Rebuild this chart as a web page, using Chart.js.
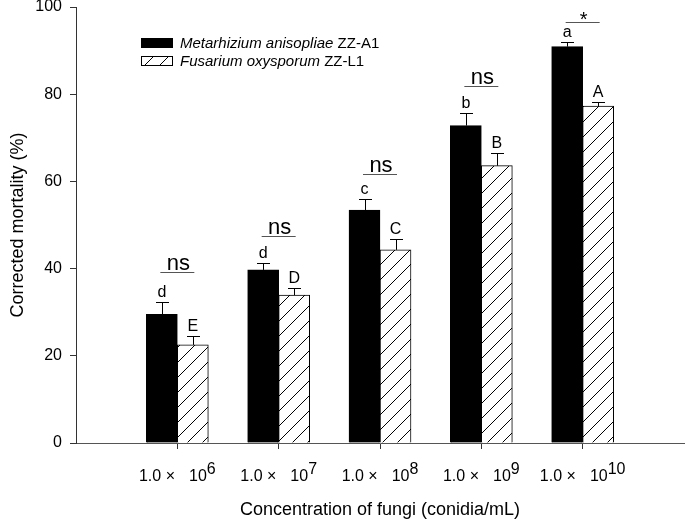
<!DOCTYPE html>
<html>
<head>
<meta charset="utf-8">
<script src="https://cdn.jsdelivr.net/npm/chart.js@4.4.0/dist/chart.umd.min.js"></script>
<style>
    html, body { margin: 0; padding: 0; background: #fff; }
    #wrap { width: 685px; height: 523px; position: relative; }
</style>
</head>
<body>
<div id="wrap"><canvas id="mortalityChart"></canvas></div>
<script>
// concentrations (position of each group on the x axis) and their labels
const concentrations = [1, 2, 3, 4, 5];
const tickLabels = ['1.0 × 10^6', '1.0 × 10^7', '1.0 × 10^8', '1.0 × 10^9', '1.0 × 10^10'];
const yTicks = [0, 20, 40, 60, 80, 100];

// series
const speciesNames = ['Metarhizium anisopliae', 'Fusarium oxysporum'];
const strainNames = ['ZZ-A1', 'ZZ-L1'];
const metarhiziumMeans = [29.5, 39.7, 53.4, 72.8, 90.9];
const metarhiziumErrors = [2.9, 1.5, 2.6, 3.0, 1.0];
const fusariumMeans = [22.5, 33.9, 44.3, 63.6, 77.3];
const fusariumErrors = [2.0, 1.6, 2.4, 2.9, 1.0];

// significance letters and pairwise comparison
const metarhiziumLetters = ['d', 'd', 'c', 'b', 'a'];
const fusariumLetters = ['E', 'D', 'C', 'B', 'A'];
const pairLabels = ['ns', 'ns', 'ns', 'ns', '*'];
const pairLevels = [39.3, 47.5, 61.7, 81.9, 96.6];

const FONT = '"Liberation Sans", Arial, Helvetica, sans-serif';
Chart.defaults.font.family = FONT;
Chart.defaults.color = '#000';

// motif hachuré pour la 2e série
function makeHatch(ctx) {
    const s = 15;
    const c = document.createElement('canvas');
    c.width = s; c.height = s;
    const g = c.getContext('2d');
    g.fillStyle = '#fff';
    g.fillRect(0, 0, s, s);
    g.strokeStyle = '#000';
    g.lineWidth = 1;
    g.beginPath();
    g.moveTo(0, s); g.lineTo(s, 0);
    g.moveTo(-2, 2); g.lineTo(2, -2);
    g.moveTo(s - 2, s + 2); g.lineTo(s + 2, s - 2);
    g.stroke();
    return ctx.createPattern(c, 'repeat');
}

const canvas = document.getElementById('mortalityChart');
const ctx = canvas.getContext('2d');
const hatch = makeHatch(ctx);

// error bars, letters, ns lines
const annotations = {
    id: 'annotations',
    afterDatasetsDraw(chart) {
        const c = chart.ctx;
        const y = chart.scales.y;
        const x = chart.scales.x;
        const sets = [
            { meta: chart.getDatasetMeta(0), means: metarhiziumMeans, errs: metarhiziumErrors, letters: metarhiziumLetters },
            { meta: chart.getDatasetMeta(1), means: fusariumMeans, errs: fusariumErrors, letters: fusariumLetters }
        ];
        c.save();
        c.strokeStyle = '#000';
        c.lineWidth = 1;
        c.fillStyle = '#000';
        c.textAlign = 'center';
        c.textBaseline = 'alphabetic';
        c.font = '16px ' + FONT;
        sets.forEach(s => {
            s.meta.data.forEach((bar, i) => {
                const top = Math.round(y.getPixelForValue(s.means[i] + s.errs[i])) + 0.5;
                const bx = Math.round(bar.x) + 0.5;
                c.beginPath();
                c.moveTo(bx, bar.y);
                c.lineTo(bx, top);
                c.moveTo(bx - 6.5, top);
                c.lineTo(bx + 6.5, top);
                c.stroke();
                c.fillText(s.letters[i], bar.x, top - 6);
            });
        });

        // comparaison entre les deux souches
        c.strokeStyle = '#555';
        concentrations.forEach((v, i) => {
            const cx = x.getPixelForValue(v);
            const ly = Math.round(y.getPixelForValue(pairLevels[i])) + 0.5;
            c.beginPath();
            c.moveTo(cx - 17, ly);
            c.lineTo(cx + 17, ly);
            c.stroke();
            c.font = (pairLabels[i] === '*' ? '20px ' : '22px ') + FONT;
            const m = c.measureText(pairLabels[i]);
            c.fillText(pairLabels[i], cx + 1, ly - 3 - m.actualBoundingBoxDescent);
        });
        c.restore();
    },
    afterDraw(chart) {
        const c = chart.ctx;
        const x = chart.scales.x;
        c.save();
        c.fillStyle = '#000';
        c.textBaseline = 'alphabetic';
        c.textAlign = 'left';
        c.font = '16px ' + FONT;

        // x tick labels with superscript
        tickLabels.forEach((lab, i) => {
            const [mant, power] = lab.split('^');
            const cut = mant.lastIndexOf(' ');
            const left = mant.slice(0, cut).trim();
            const mid = mant.slice(cut + 1);
            const gap = 14;
            const wL = c.measureText(left).width;
            const wM = c.measureText(mid).width;
            const wS = c.measureText(power).width;
            const total = wL + gap + wM + wS;
            const px = x.getPixelForValue(concentrations[i]);
            let sx = px - total / 2;
            const base = 481;
            c.fillText(left, sx, base);
            sx += wL + gap;
            c.fillText(mid, sx, base);
            sx += wM;
            c.fillText(power, sx, base - 7);
        });

        // legend
        const boxX = 141, boxW = 32, boxH = 10;
        const rows = [38, 56];
        const fills = ['#000', hatch];
        rows.forEach((ry, i) => {
            c.fillStyle = fills[i];
            c.fillRect(boxX, ry, boxW, boxH);
            c.strokeStyle = '#000';
            c.lineWidth = 1;
            c.strokeRect(boxX + 0.5, ry + 0.5, boxW - 1, boxH - 1);
            c.fillStyle = '#000';
            c.textBaseline = 'middle';
            c.font = 'italic 15px ' + FONT;
            const tx = 180;
            c.fillText(speciesNames[i], tx, ry + 5.5);
            const w = c.measureText(speciesNames[i] + ' ').width;
            c.font = '15px ' + FONT;
            c.fillText(strainNames[i], tx + w, ry + 5.5);
        });
        c.restore();
    }
};

const mortalityChart = new Chart(ctx, {
    type: 'bar',
    data: {
        datasets: [{
            label: speciesNames[0] + ' ' + strainNames[0],
            data: concentrations.map((v, i) => ({ x: v, y: metarhiziumMeans[i] })),
            backgroundColor: '#000',
            borderColor: '#000',
            borderWidth: 1,
            barThickness: 31
        }, {
            label: speciesNames[1] + ' ' + strainNames[1],
            data: concentrations.map((v, i) => ({ x: v, y: fusariumMeans[i] })),
            backgroundColor: hatch,
            borderColor: '#000',
            borderWidth: 1,
            barThickness: 31
        }]
    },
    options: {
        responsive: true,
        maintainAspectRatio: false,
        animation: false,
        layout: {
            padding: { top: 7, right: 1, left: 0, bottom: 0 }
        },
        plugins: {
            legend: { display: false },
            tooltip: { enabled: false },
            title: { display: false }
        },
        scales: {
            x: {
                type: 'linear',
                min: 0,
                max: 6,
                offset: false,
                afterBuildTicks: scale => {
                    scale.ticks = concentrations.map(v => ({ value: v }));
                },
                afterFit: scale => {
                    scale.height = 80;
                    scale.paddingLeft = 0;
                    scale.paddingRight = 0;
                },
                // labels drawn by the plugin (superscripts)
                ticks: { display: true, autoSkip: false, maxRotation: 0, callback: () => '' },
                grid: {
                    offset: false,
                    drawOnChartArea: false,
                    drawTicks: true,
                    tickLength: 6,
                    color: '#333',
                    tickColor: '#333'
                },
                border: { display: true, color: '#555', width: 1 },
                title: {
                    display: true,
                    text: 'Concentration of fungi (conidia/mL)',
                    font: { size: 18 },
                    color: '#000',
                    padding: { top: 0, bottom: 2 }
                }
            },
            y: {
                min: 0,
                max: 100,
                afterBuildTicks: scale => {
                    scale.ticks = yTicks.map(v => ({ value: v }));
                },
                afterFit: scale => {
                    scale.width = 76;
                    scale.paddingTop = 0;
                    scale.paddingBottom = 0;
                },
                ticks: {
                    font: { size: 16 },
                    color: '#000',
                    padding: 8
                },
                grid: {
                    drawOnChartArea: false,
                    drawTicks: true,
                    tickLength: 6,
                    color: '#333',
                    tickColor: '#333'
                },
                border: { display: true, color: '#333', width: 1 },
                title: {
                    display: true,
                    text: 'Corrected mortality (%)',
                    font: { size: 18 },
                    color: '#000',
                    padding: { top: 7, bottom: 0 }
                }
            }
        }
    },
    plugins: [annotations]
});
</script>
</body>
</html>
